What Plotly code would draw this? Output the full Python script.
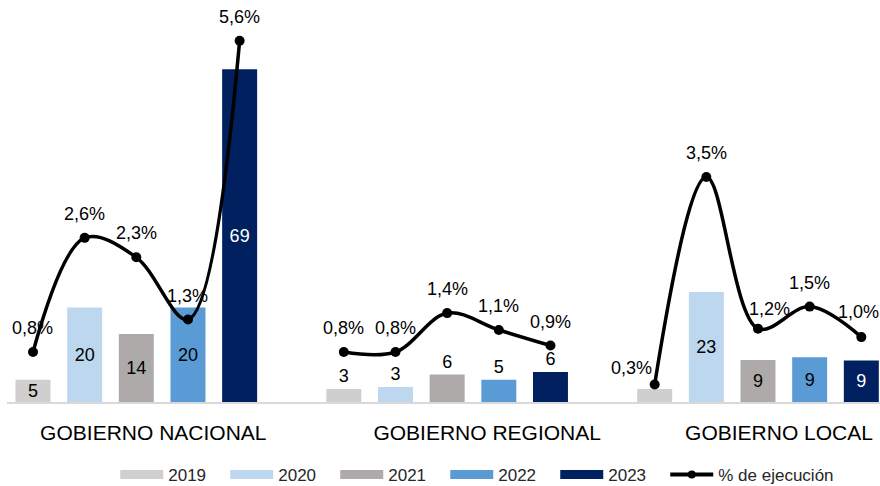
import plotly.graph_objects as go

# ---------------- data ----------------
categories = ["GOBIERNO NACIONAL", "GOBIERNO REGIONAL", "GOBIERNO LOCAL"]
years = ["2019", "2020", "2021", "2022", "2023"]

v2019 = [4.6, 2.7, 2.7]
v2020 = [19.6, 3.1, 22.8]
v2021 = [14.1, 5.7, 8.7]
v2022 = [19.6, 4.6, 9.3]
v2023 = [69.0, 6.2, 8.6]
bar_values = [v2019, v2020, v2021, v2022, v2023]

pct_nacional = [0.8, 2.56, 2.26, 1.3, 5.6]
pct_regional = [0.8, 0.8, 1.4, 1.14, 0.9]
pct_local = [0.3, 3.5, 1.16, 1.5, 1.03]
pct_values = [pct_nacional, pct_regional, pct_local]
line_name = "% de ejecución"

# ---------------- style ----------------
colors = ["#D0CECE", "#BDD7EE", "#AEAAAA", "#5B9BD5", "#002060"]
inside_text_colors = ["#000000", "#000000", "#000000", "#000000", "#FFFFFF"]
text_positions = ["inside", "outside", "inside"]
hide_label = {(0, 2)}  # (year index, category index) without label
FONT = "Liberation Sans, Arial, sans-serif"
BARGAP = 0.169
BARGROUPGAP = 0.323
X_RANGE = [-0.416, 2.3925]
PLOT_W = 873
px_per_unit = PLOT_W / (X_RANGE[1] - X_RANGE[0])
tick_label_dx = [17, 40, 21]  # pixel offsets of the category labels
# pixel offsets of the percentage labels (dx, dy) per category/year
label_shift = {(2, 0): (-23, 16), (2, 2): (12, 20), (2, 4): (-3, 25)}

x_cat = list(range(len(categories)))
slot = (1 - BARGAP) / len(years)

fig = go.Figure()

for k, (yr, vals) in enumerate(zip(years, bar_values)):
    tmpl = ["" if (k, i) in hide_label else "%{y:.0f}" for i in x_cat]
    fig.add_trace(go.Bar(
        x=x_cat, y=vals, name=yr,
        marker=dict(color=colors[k], line=dict(width=0)),
        texttemplate=tmpl,
        textposition=text_positions,
        textangle=0,
        insidetextanchor="middle",
        insidetextfont=dict(family=FONT, size=18, color=inside_text_colors[k]),
        outsidetextfont=dict(family=FONT, size=18, color="#000000"),
        constraintext="none",
        cliponaxis=False,
        showlegend=False,
        yaxis="y",
    ))

# line positions at bar centres
lx, ly = [], []
for i, vals in enumerate(pct_values):
    for k, v in enumerate(vals):
        lx.append(i + (k - (len(years) - 1) / 2) * slot)
        ly.append(v)
    lx.append(None)
    ly.append(None)

fig.add_trace(go.Scatter(
    x=lx, y=ly, name=line_name, mode="lines+markers",
    line=dict(color="#000000", width=3.5, shape="spline", smoothing=1),
    marker=dict(color="#000000", size=10),
    connectgaps=False, yaxis="y2", showlegend=False, cliponaxis=False,
))

# legend entries (wide swatches)
for k, yr in enumerate(years):
    fig.add_trace(go.Scatter(
        x=[None], y=[None], name=yr, mode="lines",
        line=dict(color=colors[k], width=9), yaxis="y", legend="legend",
    ))
fig.add_trace(go.Scatter(
    x=[None], y=[None], name=line_name, mode="lines+markers",
    line=dict(color="#000000", width=4), marker=dict(color="#000000", size=8),
    yaxis="y2", legend="legend2",
))

# percentage labels
for i, vals in enumerate(pct_values):
    for k, v in enumerate(vals):
        dx, dy = label_shift.get((i, k), (0, 24))
        fig.add_annotation(
            x=i + (k - (len(years) - 1) / 2) * slot, y=v, xref="x", yref="y2",
            text=f"{v:.1f}%".replace(".", ","), showarrow=False,
            xshift=dx, yshift=dy,
            font=dict(family=FONT, size=18, color="#000000"),
        )

legend_common = dict(
    orientation="h", xanchor="left", y=-0.186, yanchor="middle",
    font=dict(family=FONT, size=17, color="#262626"),
    itemwidth=43, bgcolor="rgba(0,0,0,0)", traceorder="normal",
)

fig.update_layout(
    width=880, height=486,
    margin=dict(l=7, r=0, t=10, b=84, autoexpand=False),
    paper_bgcolor="white", plot_bgcolor="white",
    barmode="group", bargap=BARGAP, bargroupgap=BARGROUPGAP,
    font=dict(family=FONT, size=17, color="#262626"),
    xaxis=dict(
        range=X_RANGE,
        tickvals=[i + d / px_per_unit for i, d in zip(x_cat, tick_label_dx)],
        ticktext=categories,
        showgrid=False, zeroline=False, showline=True, linecolor="#D9D9D9",
        linewidth=2, ticks="", ticklabelstandoff=11, automargin=False,
        tickfont=dict(family=FONT, size=21, color="#000000"),
    ),
    yaxis=dict(range=[0, 81.3], visible=False, showgrid=False),
    yaxis2=dict(range=[0.029, 6.074], overlaying="y", side="right",
                visible=False, showgrid=False),
    legend=dict(x=0.124, entrywidth=52, entrywidthmode="pixels", **legend_common),
    legend2=dict(x=0.754, **legend_common),
)

fig.write_html(
    "out.html",
    config={"displayModeBar": False},
    post_script="document.body.style.margin='0';document.body.style.overflow='hidden';",
)
